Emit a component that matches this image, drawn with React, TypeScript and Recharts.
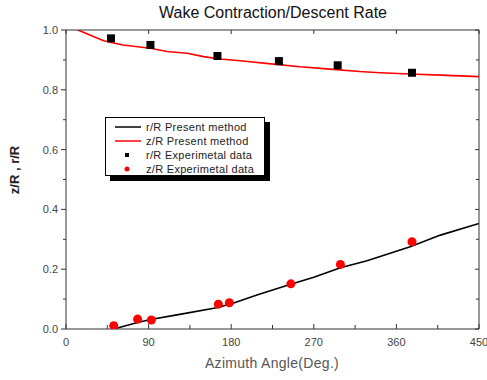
import React from 'react';
import { ComposedChart, Line, Scatter, XAxis, YAxis } from 'recharts';

// z/R present method (red line, upper curve)
const zPresentAngle = [13, 26, 41, 62, 92, 110, 132, 150, 168, 190, 226, 255, 284, 320, 342, 375, 408, 450];
const zPresentValue = [1.0, 0.983, 0.964, 0.95, 0.939, 0.928, 0.922, 0.911, 0.903, 0.897, 0.886, 0.877, 0.87, 0.861, 0.857, 0.853, 0.849, 0.844];

// r/R present method (black line, lower curve)
const rPresentAngle = [52, 77, 92, 124, 164, 182, 208, 244, 270, 299, 328, 375, 408, 450];
const rPresentValue = [0.0, 0.021, 0.032, 0.049, 0.071, 0.086, 0.114, 0.149, 0.173, 0.205, 0.228, 0.275, 0.314, 0.353];

// experimental data
const rExpAngle = [49, 92, 165, 232, 296, 377];
const rExpValue = [0.972, 0.95, 0.913, 0.896, 0.882, 0.857];
const zExpAngle = [52, 78, 93, 166, 178, 245, 299, 377];
const zExpValue = [0.011, 0.033, 0.03, 0.083, 0.088, 0.151, 0.216, 0.292];

const xTicks = [0, 45, 90, 135, 180, 225, 270, 315, 360, 405, 450];
const yTicks = [0, 0.1, 0.2, 0.3, 0.4, 0.5, 0.6, 0.7, 0.8, 0.9, 1.0];

const toPoints = (xs: number[], ys: number[]) => xs.map((x, i) => ({ x, y: ys[i] }));

const zPresent = toPoints(zPresentAngle, zPresentValue);
const rPresent = toPoints(rPresentAngle, rPresentValue);
const rExp = toPoints(rExpAngle, rExpValue);
const zExp = toPoints(zExpAngle, zExpValue);

const FONT = '"Liberation Sans", Arial, sans-serif';
const AXIS = '#333';

const isMajorX = (v: number) => v % 90 === 0;
const isMajorY = (v: number) => Math.round(v * 10) % 2 === 0;

const BottomTick = (props: any) => {
  const { x, y, payload } = props;
  const major = isMajorX(payload.value);
  return (
    <g>
      <line x1={x} y1={y} x2={x} y2={y - (major ? 5 : 4)} stroke={AXIS} />
      {major && (
        <text x={x} y={y + 17} textAnchor="middle" fontSize={11} fill="#444" fontFamily={FONT}>
          {payload.value}
        </text>
      )}
    </g>
  );
};

const TopTick = (props: any) => {
  const { x, y, payload } = props;
  const major = isMajorX(payload.value);
  return <line x1={x} y1={y} x2={x} y2={y + (major ? 4 : 0)} stroke={AXIS} />;
};

const LeftTick = (props: any) => {
  const { x, y, payload } = props;
  const major = isMajorY(payload.value);
  return (
    <g>
      <line x1={x} y1={y} x2={x - (major ? 5 : 3)} y2={y} stroke={AXIS} />
      {major && (
        <text x={x - 8} y={y + 4} textAnchor="end" fontSize={11} fill="#444" fontFamily={FONT}>
          {payload.value.toFixed(1)}
        </text>
      )}
    </g>
  );
};

const RightTick = (props: any) => {
  const { x, y, payload } = props;
  const major = isMajorY(payload.value);
  return <line x1={x} y1={y} x2={x - (major ? 4 : 3)} y2={y} stroke={AXIS} />;
};

const legendItems = [
  { label: 'r/R Present method', kind: 'line', color: '#000' },
  { label: 'z/R Present method', kind: 'line', color: '#ff0000' },
  { label: 'r/R Experimetal data', kind: 'square', color: '#000' },
  { label: 'z/R Experimetal data', kind: 'circle', color: '#ff0000' },
];

const LegendBox = () => (
  <div
    style={{
      position: 'absolute',
      left: 105,
      top: 117,
      width: 160,
      height: 59,
      border: '1px solid #000',
      background: '#fff',
      boxShadow: '5px 5px 0 #000',
      fontFamily: FONT,
      fontSize: 11,
      color: '#222',
      paddingTop: 2,
      boxSizing: 'border-box',
    }}
  >
    {legendItems.map((item) => (
      <div key={item.label} style={{ display: 'flex', alignItems: 'center', height: 14 }}>
        <svg width={40} height={14} style={{ flex: 'none' }}>
          {item.kind === 'line' && <line x1={9} y1={7} x2={35} y2={7} stroke={item.color} strokeWidth={1.5} />}
          {item.kind === 'square' && <rect x={19} y={5} width={4} height={4} fill={item.color} />}
          {item.kind === 'circle' && <circle cx={21} cy={7} r={2.5} fill={item.color} />}
        </svg>
        <span style={{ letterSpacing: 0.3 }}>{item.label}</span>
      </div>
    ))}
  </div>
);

export default function App() {
  return (
    <div style={{ position: 'absolute', left: 0, top: 0, width: 487, height: 380, background: '#fff' }}>
      <ComposedChart width={487} height={380} margin={{ top: 29, right: 7, bottom: 50, left: 65 }}>
        <XAxis
          xAxisId="bottom"
          type="number"
          dataKey="x"
          domain={[0, 450]}
          ticks={xTicks}
          interval={0}
          height={1}
          tickSize={0}
          tickMargin={0}
          tickLine={false}
          axisLine={{ stroke: AXIS }}
          tick={<BottomTick />}
          allowDataOverflow
        />
        <XAxis
          xAxisId="top"
          orientation="top"
          type="number"
          dataKey="x"
          domain={[0, 450]}
          ticks={xTicks}
          interval={0}
          height={1}
          tickSize={0}
          tickMargin={0}
          tickLine={false}
          axisLine={{ stroke: AXIS }}
          tick={<TopTick />}
          allowDataOverflow
        />
        <YAxis
          yAxisId="left"
          type="number"
          dataKey="y"
          domain={[0, 1]}
          ticks={yTicks}
          interval={0}
          width={1}
          tickSize={0}
          tickMargin={0}
          tickLine={false}
          axisLine={{ stroke: AXIS }}
          tick={<LeftTick />}
          allowDataOverflow
        />
        <YAxis
          yAxisId="right"
          orientation="right"
          type="number"
          dataKey="y"
          domain={[0, 1]}
          ticks={yTicks}
          interval={0}
          width={1}
          tickSize={0}
          tickMargin={0}
          tickLine={false}
          axisLine={{ stroke: AXIS }}
          tick={<RightTick />}
          allowDataOverflow
        />
        <Line xAxisId="bottom" yAxisId="left" data={zPresent} dataKey="y" type="linear" stroke="#ff0000" strokeWidth={1.6} dot={false} isAnimationActive={false} />
        <Line xAxisId="bottom" yAxisId="left" data={rPresent} dataKey="y" type="linear" stroke="#000" strokeWidth={1.6} dot={false} isAnimationActive={false} />
        <Line xAxisId="top" yAxisId="right" data={rPresent} dataKey="y" stroke="none" dot={false} legendType="none" isAnimationActive={false} />
        <Scatter xAxisId="bottom" yAxisId="left" data={rExp} dataKey="y" fill="#000" shape="square" size={36} isAnimationActive={false} />
        <Scatter xAxisId="bottom" yAxisId="left" data={zExp} dataKey="y" fill="#ff0000" shape="circle" size={32} isAnimationActive={false} />
        <text x={273} y={18} textAnchor="middle" fontSize={16} fill="#111" fontFamily={FONT}>
          Wake Contraction/Descent Rate
        </text>
        <text x={272} y={368} textAnchor="middle" fontSize={14} fill="#555" fontFamily={FONT} letterSpacing={0.3}>
          Azimuth Angle(Deg.)
        </text>
        <text x={19} y={170} textAnchor="middle" fontSize={13} fontWeight="bold" fill="#222" fontFamily={FONT} transform="rotate(-90 19 170)">
          z/R , r/R
        </text>
      </ComposedChart>
      <LegendBox />
    </div>
  );
}
